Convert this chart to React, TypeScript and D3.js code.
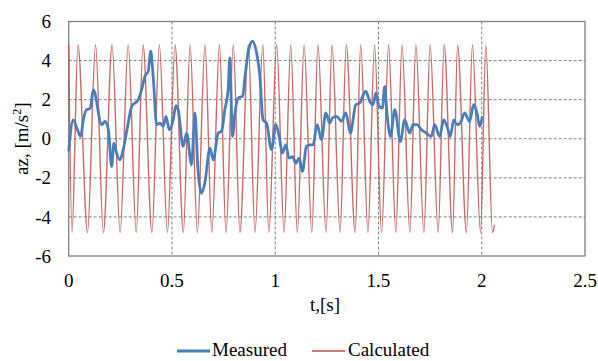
import React from 'react';
import * as d3 from 'd3';

// Measured acceleration
const measuredT = [
  0, 0.022, 0.042, 0.058, 0.071, 0.087, 0.104, 0.119, 0.16, 0.176, 0.192, 0.208, 0.219, 0.232, 0.248,
  0.264, 0.288, 0.305, 0.337, 0.353, 0.369, 0.385, 0.397, 0.409, 0.426, 0.442, 0.458, 0.471, 0.487,
  0.506, 0.519, 0.53, 0.554, 0.571, 0.595, 0.611, 0.626, 0.643, 0.659, 0.684, 0.7, 0.724, 0.74,
  0.756, 0.772, 0.78, 0.793, 0.805, 0.821, 0.842, 0.854, 0.87, 0.89, 0.91, 0.925, 0.941, 0.958,
  0.982, 1.003, 1.019, 1.035, 1.051, 1.067, 1.084, 1.1, 1.116, 1.132, 1.151, 1.167, 1.183, 1.203,
  1.224, 1.245, 1.264, 1.277, 1.297, 1.321, 1.342, 1.364, 1.39, 1.409, 1.438, 1.458, 1.474, 1.487,
  1.503, 1.519, 1.53, 1.541, 1.558, 1.579, 1.606, 1.627, 1.651, 1.667, 1.687, 1.708, 1.732, 1.756,
  1.772, 1.796, 1.816, 1.832, 1.848, 1.864, 1.88, 1.896, 1.917, 1.941, 1.961, 1.977, 1.99, 2.003,
];
const measuredA = [
  -0.65, 0.97, 0.46, 0.12, 0.97, 1.49, 1.55, 2.51, 0.72, 0.89, 0.46, -1.42, -0.22, -0.74, -1.08,
  -0.56, 0.8, 1.66, 2.0, 2.51, 3.2, 3.45, 4.48, 3.2, 0.72, 0.8, 0.63, 1.15, 0.46,
  0.97, 1.69, 1.49, -0.39, 0.29, -1.33, 1.32, -1.59, -2.79, -2.27, -0.48, -1.08, 0.29, 0.38,
  1.49, 2.51, 4.14, 0.12, 1.32, 2.09, 2.17, 3.2, 4.48, 4.99, 4.39, 3.28, 0.97, 0.8,
  -0.56, 0.72, 0.12, -0.74, -0.31, -0.99, -0.91, -1.25, -0.99, -1.68, -0.39, -0.31, -0.31, 0.72,
  -0.05, 1.32, 0.8, 1.06, 1.15, 0.89, 1.32, 0.29, 1.74, 1.83, 2.43, 1.91, 1.74, 2.34,
  1.66, 1.57, 2.68, 1.32, 0.12, 1.49, -0.14, 0.97, 0.29, 0.72, 0.72, 0.46, 0.29, 0.12,
  0.72, 0.12, 0.97, 0.63, 0.12, 0.97, 0.72, 0.8, 1.32, 0.89, 1.74, 1.32, 0.63, 1.15,
];

// Calculated acceleration: turning points
const calcPeakT = [
  0, 0.045, 0.13, 0.21, 0.288, 0.36, 0.439, 0.515, 0.588, 0.66, 0.73, 0.797, 0.87, 0.94, 1.007,
  1.075, 1.14, 1.207, 1.275, 1.344, 1.414, 1.481, 1.549, 1.614, 1.681, 1.75, 1.818, 1.883, 1.955, 2.02,
];
const calcTroughT = [
  0.016, 0.091, 0.168, 0.249, 0.327, 0.403, 0.478, 0.555, 0.623, 0.693, 0.762, 0.829, 0.902, 0.969,
  1.043, 1.107, 1.177, 1.246, 1.314, 1.387, 1.449, 1.515, 1.584, 1.652, 1.72, 1.789, 1.859, 1.926,
  1.994, 2.052,
];
const calcPeak = 4.8;
const calcTrough = -4.8;
const calcEnd = { t: 2.062, a: -4.4 };

const xTicks = [0, 0.5, 1, 1.5, 2, 2.5];
const yTicks = [-6, -4, -2, 0, 2, 4, 6];

const W = 598;
const H = 361;
const FONT = '"Liberation Serif", "Times New Roman", serif';
const GRID = '#808080';
const BLUE = '#4a7ebb';
const RED = '#c0504d';

export default function App() {
  const x = d3.scaleLinear().domain([0, 2.5]).range([68.7, 585]);
  const y = d3.scaleLinear().domain([-6, 6]).range([256, 21.5]);

  const measured = measuredT.map((t, i) => ({ t, a: measuredA[i] }));
  const calculated = [
    ...calcPeakT.map(t => ({ t, a: calcPeak })),
    ...calcTroughT.map(t => ({ t, a: calcTrough })),
    calcEnd,
  ].sort((p, q) => p.t - q.t);

  const line = d3
    .line<{ t: number; a: number }>()
    .x(d => x(d.t))
    .y(d => y(d.a))
    .curve(d3.curveMonotoneX);

  const [x0, x1] = x.range();
  const [y0, y1] = y.range();

  return (
    <svg
      width={W}
      height={H}
      style={{ position: 'absolute', left: 0, top: 0, background: '#fff' }}
      fontFamily={FONT}
    >
      <rect width={W} height={H} fill="#fff" />
      {/* grid */}
      {yTicks.slice(1, -1).map(v => (
        <line key={'gy' + v} x1={x0} x2={x1} y1={y(v)} y2={y(v)} stroke={GRID} strokeWidth={1} strokeDasharray="3,2" />
      ))}
      {xTicks.slice(1, -1).map(v => (
        <line key={'gx' + v} x1={x(v)} x2={x(v)} y1={y1} y2={y0} stroke={GRID} strokeWidth={1} strokeDasharray="3,2" />
      ))}
      <rect x={x0} y={y1} width={x1 - x0} height={y0 - y1} fill="none" stroke={GRID} strokeWidth={1.3} />

      {/* series */}
      <path d={line(calculated) || ''} fill="none" stroke={RED} strokeWidth={1.4} strokeOpacity={0.85} />
      <path d={line(measured) || ''} fill="none" stroke={BLUE} strokeWidth={2.8} strokeLinejoin="round" />

      {/* tick labels */}
      {yTicks.map(v => (
        <text key={'ty' + v} x={51} y={y(v)} dy="0.35em" textAnchor="end" fontSize={19} fill="#000">
          {v}
        </text>
      ))}
      {xTicks.map(v => (
        <text key={'tx' + v} x={x(v)} y={287} textAnchor="middle" fontSize={19} fill="#000">
          {v}
        </text>
      ))}

      {/* axis titles */}
      <text x={325} y={311} textAnchor="middle" fontSize={19} fill="#000">t,[s]</text>
      <text transform={`translate(28,${(y0 + y1) / 2}) rotate(-90)`} textAnchor="middle" fontSize={19} fill="#000">
        az, [m/s<tspan dy={-7} fontSize={12}>2</tspan><tspan dy={7}>]</tspan>
      </text>

      {/* legend */}
      <line x1={177} x2={210} y1={351} y2={351} stroke={BLUE} strokeWidth={2.8} />
      <text x={212} y={356} fontSize={19} fill="#000">Measured</text>
      <line x1={312} x2={345} y1={351} y2={351} stroke={RED} strokeWidth={1.4} />
      <text x={348} y={356} fontSize={19} fill="#000">Calculated</text>
    </svg>
  );
}
